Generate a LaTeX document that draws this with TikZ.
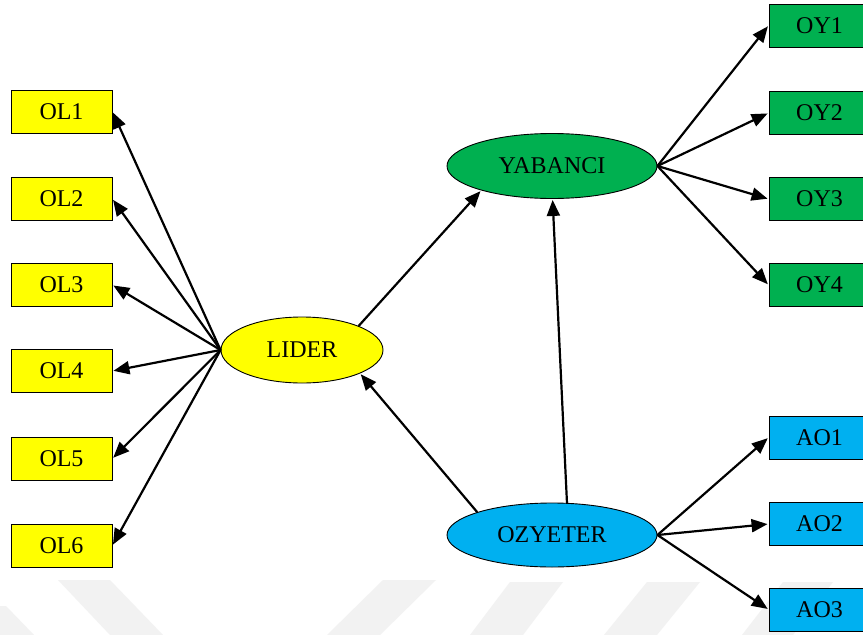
\documentclass[tikz,border=0pt]{standalone}
\usepackage{fontspec}
\setmainfont{Liberation Serif}
\usetikzlibrary{shapes.geometric,arrows.meta}

\definecolor{cyellow}{RGB}{255,255,0}
\definecolor{cgreen}{RGB}{0,176,80}
\definecolor{cblue}{RGB}{0,176,240}
\definecolor{wmark}{RGB}{242,242,242}

\tikzset{
  itembox/.style={draw=black, line width=0.9pt, rectangle, minimum width=101pt,
    minimum height=43pt, inner sep=0pt, font=\fontsize{24}{28}\selectfont},
  latent/.style={draw=black, line width=0.9pt, ellipse, inner sep=0pt,
    font=\fontsize{24}{28}\selectfont},
  path/.style={line width=2.2pt, -{Triangle[length=16pt,width=13pt]}, shorten >=1pt}
}

\begin{document}
\begin{tikzpicture}[x=1pt,y=-1pt]
  \clip (0,0) rectangle (863,635);
  \fill[white] (0,0) rectangle (863,635);

  % faint chevron band along the bottom edge
  \fill[wmark] (0,606) -- (6,606) -- (34,635) -- (0,635) -- cycle;
  \fill[wmark] (58,580) -- (110,580) -- (163,635) -- (110,635) -- cycle;
  \fill[wmark] (383,580) -- (436,580) -- (380,635) -- (327,635) -- cycle;
  \fill[wmark] (510,582) -- (563,582) -- (523,635) -- (470,635) -- cycle;
  \fill[wmark] (647,582) -- (700,582) -- (657,635) -- (604,635) -- cycle;
  \fill[wmark] (783,582) -- (833,582) -- (793,635) -- (742,635) -- cycle;

  % latent variables
  \node[latent, fill=cyellow, minimum width=162pt, minimum height=66pt] (lider) at (302,350) {LIDER};
  \node[latent, fill=cgreen, minimum width=210pt, minimum height=65pt] (yab) at (552,166) {YABANCI};
  \node[latent, fill=cblue, minimum width=210pt, minimum height=64pt] (ozy) at (552,535) {OZYETER};

  % indicators of LIDER
  \node[itembox, fill=cyellow] (ol1) at (61.5,111.5) {OL1};
  \node[itembox, fill=cyellow] (ol2) at (61.5,199) {OL2};
  \node[itembox, fill=cyellow] (ol3) at (61.5,285) {OL3};
  \node[itembox, fill=cyellow] (ol4) at (61.5,371) {OL4};
  \node[itembox, fill=cyellow] (ol5) at (61.5,458.5) {OL5};
  \node[itembox, fill=cyellow] (ol6) at (61.5,545.5) {OL6};

  % indicators of YABANCI
  \node[itembox, fill=cgreen] (oy1) at (819.5,25.5) {OY1};
  \node[itembox, fill=cgreen] (oy2) at (819.5,113) {OY2};
  \node[itembox, fill=cgreen] (oy3) at (819.5,199) {OY3};
  \node[itembox, fill=cgreen] (oy4) at (819.5,285) {OY4};

  % indicators of OZYETER
  \node[itembox, fill=cblue] (ao1) at (819.5,437.5) {AO1};
  \node[itembox, fill=cblue] (ao2) at (819.5,524) {AO2};
  \node[itembox, fill=cblue] (ao3) at (819.5,609.5) {AO3};

  % measurement paths
  \foreach \t in {ol1,ol2,ol3,ol4,ol5,ol6}
    \draw[path] (lider.west) -- (\t.east);
  \foreach \t in {oy1,oy2,oy3,oy4}
    \draw[path] (yab.east) -- (\t.west);
  \foreach \t in {ao1,ao2,ao3}
    \draw[path] (ozy.east) -- (\t.west);

  % structural paths
  \draw[path] (lider.23) -- (yab.199);
  \draw[path] (ozy.163) -- (lider.-22);
  \draw[path] (ozy.65) -- (yab.-89);
\end{tikzpicture}
\end{document}
